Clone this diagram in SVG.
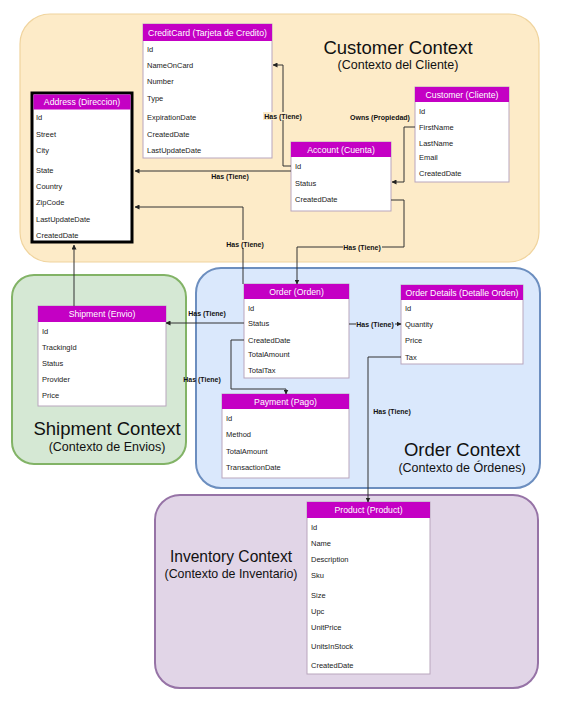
<svg xmlns="http://www.w3.org/2000/svg" width="569" height="713" viewBox="0 0 569 713">
<defs>
<marker id="arr" viewBox="0 0 10 10" refX="9" refY="5" markerWidth="5" markerHeight="5" orient="auto" markerUnits="userSpaceOnUse">
<path d="M0,0 L10,5 L0,10 z" fill="#222"/>
</marker>
<style>
.ctx-t{font-family:"Liberation Sans",Arial,sans-serif;fill:#111;text-anchor:middle}
.big{font-size:18.5px}
.sub{font-size:12.5px}
.tbl{fill:#fff;stroke:#b9a6bd;stroke-width:1}
.hdr{fill:#c400c4}
.ht{font-family:"Liberation Sans",Arial,sans-serif;font-size:8.7px;fill:#fff;text-anchor:middle}
.rt{font-family:"Liberation Sans",Arial,sans-serif;font-size:7.5px;fill:#222}
.ln{fill:none;stroke:#333;stroke-width:1}
.lbl{font-family:"Liberation Sans",Arial,sans-serif;font-size:7px;font-weight:bold;fill:#111;text-anchor:middle}
</style>
</defs>
<rect width="569" height="713" fill="#fff"/>

<g id="ctx-customer">
<rect x="20" y="14" width="519" height="248" rx="30" fill="#fdebc8" stroke="#f0d49e" stroke-width="1.2"/>
<text class="ctx-t big" x="398" y="54">Customer Context</text>
<text class="ctx-t sub" x="398" y="69">(Contexto del Cliente)</text>
</g>
<g id="ctx-shipment">
<rect x="12" y="275" width="174" height="189" rx="22" fill="#d5e8d4" stroke="#82b366" stroke-width="2"/>
<text class="ctx-t big" x="107" y="435">Shipment Context</text>
<text class="ctx-t sub" x="107" y="451">(Contexto de Envios)</text>
</g>
<g id="ctx-order">
<rect x="196" y="268" width="344" height="220" rx="25" fill="#dae8fc" stroke="#6c8ebf" stroke-width="2"/>
<text class="ctx-t big" x="462" y="456">Order Context</text>
<text class="ctx-t sub" x="462" y="472">(Contexto de Órdenes)</text>
</g>
<g id="ctx-inventory">
<rect x="155" y="495" width="383" height="193" rx="25" fill="#e1d5e7" stroke="#9673a6" stroke-width="2"/>
<text class="ctx-t" font-size="15.6" x="231" y="562">Inventory Context</text>
<text class="ctx-t" font-size="12.4" x="231" y="578">(Contexto de Inventario)</text>
</g>

<g id="creditcard">
<rect class="tbl" x="143" y="24" width="129" height="134"/>
<rect class="hdr" x="143" y="24" width="129" height="17"/>
<text class="ht" x="207.5" y="35.5">CreditCard (Tarjeta de Credito)</text>
<text class="rt" x="147" y="51.7">Id</text>
<text class="rt" x="147" y="67.7">NameOnCard</text>
<text class="rt" x="147" y="83.7">Number</text>
<text class="rt" x="147" y="100.7">Type</text>
<text class="rt" x="147" y="119.7">ExpirationDate</text>
<text class="rt" x="147" y="136.7">CreatedDate</text>
<text class="rt" x="147" y="152.7">LastUpdateDate</text>
</g>

<g id="address">
<rect x="32" y="93" width="100" height="149" fill="#fff" stroke="#000" stroke-width="3"/>
<rect class="hdr" x="33.5" y="94.5" width="97" height="15"/>
<text class="ht" x="82" y="104.5">Address (Direccion)</text>
<text class="rt" x="36" y="119.7">Id</text>
<text class="rt" x="36" y="136.7">Street</text>
<text class="rt" x="36" y="152.7">City</text>
<text class="rt" x="36" y="172.7">State</text>
<text class="rt" x="36" y="188.7">Country</text>
<text class="rt" x="36" y="204.7">ZipCode</text>
<text class="rt" x="36" y="221.7">LastUpdateDate</text>
<text class="rt" x="36" y="237.7">CreatedDate</text>
</g>

<g id="customer">
<rect class="tbl" x="415" y="87" width="94" height="95"/>
<rect class="hdr" x="415" y="87" width="94" height="15"/>
<text class="ht" x="462" y="97.5">Customer (Cliente)</text>
<text class="rt" x="419" y="113.7">Id</text>
<text class="rt" x="419" y="129.7">FirstName</text>
<text class="rt" x="419" y="145.7">LastName</text>
<text class="rt" x="419" y="159.7">Email</text>
<text class="rt" x="419" y="175.7">CreatedDate</text>
</g>

<g id="account">
<rect class="tbl" x="291" y="142" width="100" height="69"/>
<rect class="hdr" x="291" y="142" width="100" height="15"/>
<text class="ht" x="341" y="152.5">Account (Cuenta)</text>
<text class="rt" x="295" y="168.7">Id</text>
<text class="rt" x="295" y="185.7">Status</text>
<text class="rt" x="295" y="201.7">CreatedDate</text>
</g>

<g id="shipment">
<rect class="tbl" x="38" y="306" width="128" height="100"/>
<rect class="hdr" x="38" y="306" width="128" height="16"/>
<text class="ht" x="102" y="317">Shipment (Envio)</text>
<text class="rt" x="42" y="333.7">Id</text>
<text class="rt" x="42" y="349.7">TrackingId</text>
<text class="rt" x="42" y="365.7">Status</text>
<text class="rt" x="42" y="381.7">Provider</text>
<text class="rt" x="42" y="397.7">Price</text>
</g>

<g id="order">
<rect class="tbl" x="244" y="284" width="105" height="94"/>
<rect class="hdr" x="244" y="284" width="105" height="15"/>
<text class="ht" x="296.5" y="294.5">Order (Orden)</text>
<text class="rt" x="248" y="310.7">Id</text>
<text class="rt" x="248" y="325.7">Status</text>
<text class="rt" x="248" y="342.7">CreatedDate</text>
<text class="rt" x="248" y="356.7">TotalAmount</text>
<text class="rt" x="248" y="372.7">TotalTax</text>
</g>

<g id="orderdetails">
<rect class="tbl" x="401" y="285" width="122" height="79"/>
<rect class="hdr" x="401" y="285" width="122" height="15"/>
<text class="ht" x="462" y="295.5">Order Details (Detalle Orden)</text>
<text class="rt" x="405" y="310.7">Id</text>
<text class="rt" x="405" y="326.7">Quantity</text>
<text class="rt" x="405" y="342.7">Price</text>
<text class="rt" x="405" y="359.7">Tax</text>
</g>

<g id="payment">
<rect class="tbl" x="222" y="394" width="127" height="84"/>
<rect class="hdr" x="222" y="394" width="127" height="15"/>
<text class="ht" x="285.5" y="404.5">Payment (Pago)</text>
<text class="rt" x="226" y="420.7">Id</text>
<text class="rt" x="226" y="436.7">Method</text>
<text class="rt" x="226" y="453.7">TotalAmount</text>
<text class="rt" x="226" y="469.7">TransactionDate</text>
</g>

<g id="product">
<rect class="tbl" x="307" y="502" width="123" height="172"/>
<rect class="hdr" x="307" y="502" width="123" height="16"/>
<text class="ht" x="368.5" y="513">Product (Product)</text>
<text class="rt" x="311" y="529.7">Id</text>
<text class="rt" x="311" y="545.7">Name</text>
<text class="rt" x="311" y="561.7">Description</text>
<text class="rt" x="311" y="577.7">Sku</text>
<text class="rt" x="311" y="597.7">Size</text>
<text class="rt" x="311" y="613.7">Upc</text>
<text class="rt" x="311" y="629.7">UnitPrice</text>
<text class="rt" x="311" y="648.7">UnitsInStock</text>
<text class="rt" x="311" y="667.7">CreatedDate</text>
</g>

<g id="connectors">
<path class="ln" d="M291,166 H283 V65 H273" marker-end="url(#arr)"/>
<rect x="263" y="112" width="39" height="8" fill="#fdebc8"/>
<text class="lbl" x="283" y="118.5">Has (Tiene)</text>

<path class="ln" d="M291,171 H135" marker-end="url(#arr)"/>
<text class="lbl" x="230" y="178.5">Has (Tiene)</text>

<path class="ln" d="M415,127 H404 V182 H392" marker-end="url(#arr)"/>
<text class="lbl" x="380" y="119.5">Owns (Propiedad)</text>

<path class="ln" d="M391,200 H404 V247 H297 V284" marker-end="url(#arr)"/>
<rect x="343" y="243" width="39" height="8" fill="#fdebc8"/>
<text class="lbl" x="362" y="249.5">Has (Tiene)</text>

<path class="ln" d="M243,284 V207 H135" marker-end="url(#arr)"/>
<rect x="226" y="240" width="39" height="8" fill="#fdebc8"/>
<text class="lbl" x="245" y="246.5">Has (Tiene)</text>

<path class="ln" d="M74,306 V245" marker-end="url(#arr)"/>

<path class="ln" d="M244,323 H166" marker-end="url(#arr)"/>
<text class="lbl" x="207" y="315.5">Has (Tiene)</text>

<path class="ln" d="M244,340 H231 V389 H286 V394" marker-end="url(#arr)"/>
<text class="lbl" x="202" y="381.5">Has (Tiene)</text>

<path class="ln" d="M349,324 H401" marker-end="url(#arr)"/>
<rect x="356" y="320" width="39" height="8" fill="#dae8fc"/>
<text class="lbl" x="375" y="326.5">Has (Tiene)</text>

<path class="ln" d="M401,357 H368 V502" marker-end="url(#arr)"/>
<text class="lbl" x="392" y="413.5">Has (Tiene)</text>
</g>
</svg>
